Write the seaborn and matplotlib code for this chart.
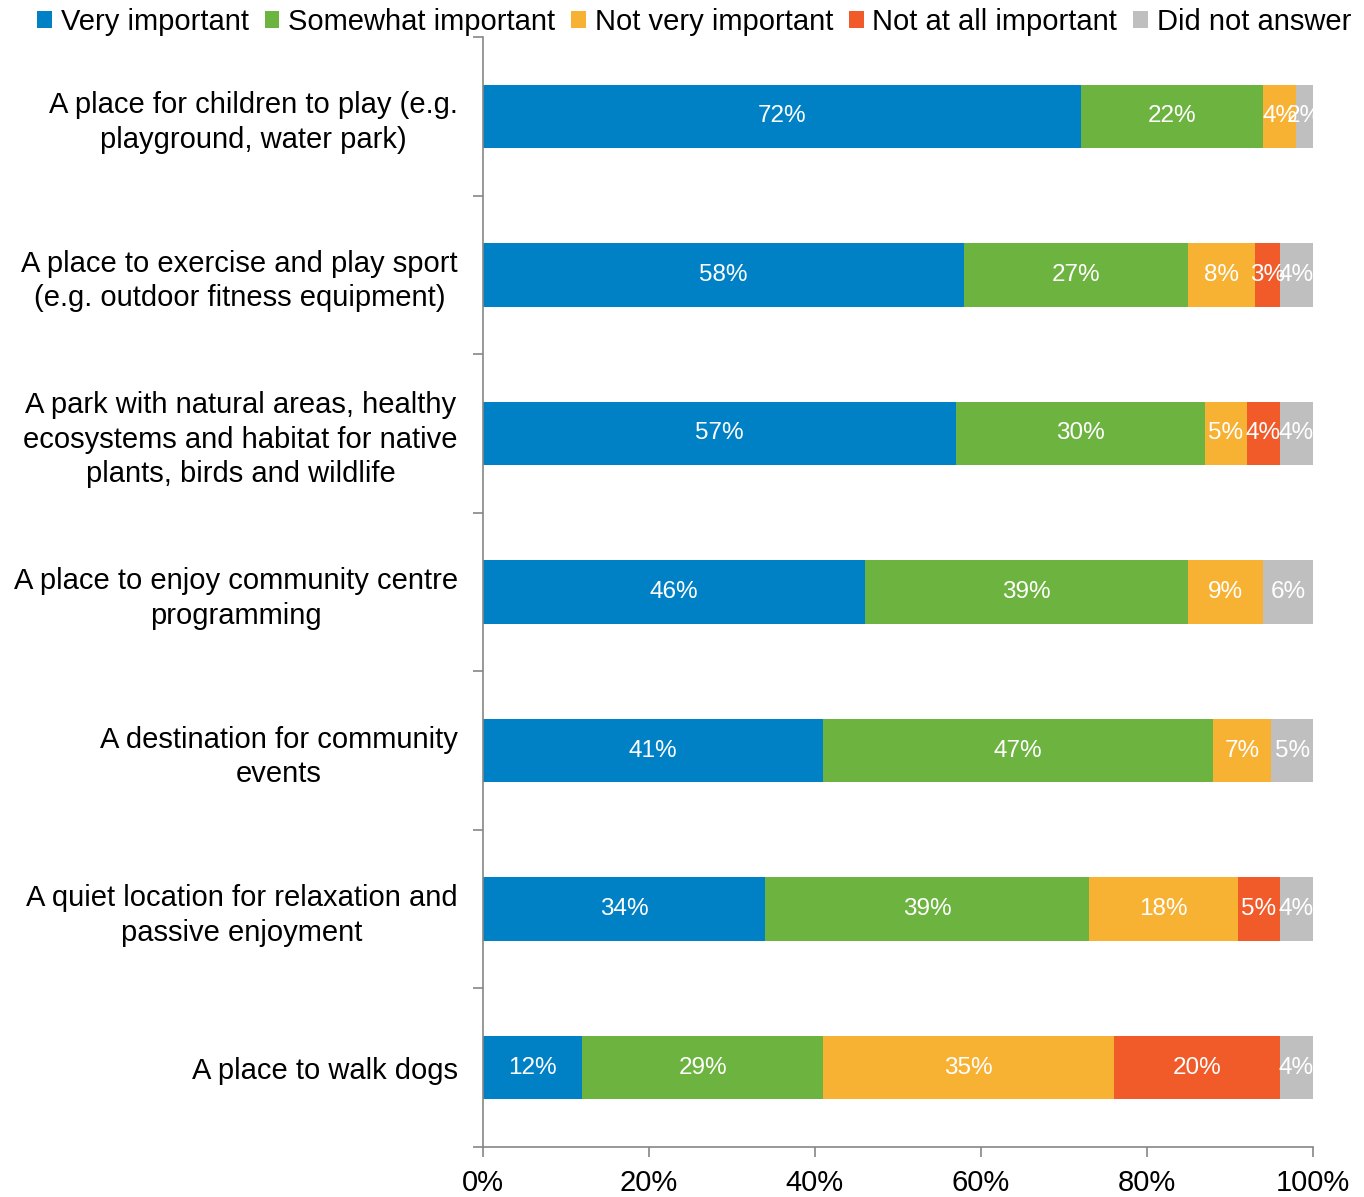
import numpy as np
import pandas as pd
import matplotlib
matplotlib.use("Agg")
import matplotlib.pyplot as plt
from matplotlib.patches import Patch
from matplotlib.ticker import FixedLocator
import seaborn as sns

categories = [
    "A place for children to play (e.g.\nplayground, water park)",
    "A place to exercise and play sport\n(e.g. outdoor fitness equipment)",
    "A park with natural areas, healthy\necosystems and habitat for native\nplants, birds and wildlife",
    "A place to enjoy community centre\nprogramming",
    "A destination for community\nevents",
    "A quiet location for relaxation and\npassive enjoyment",
    "A place to walk dogs",
]
responses = ["Very important", "Somewhat important", "Not very important",
             "Not at all important", "Did not answer"]
very_important = [72, 58, 57, 46, 41, 34, 12]
somewhat_important = [22, 27, 30, 39, 47, 39, 29]
not_very_important = [4, 8, 5, 9, 7, 18, 35]
not_at_all_important = [0, 3, 4, 0, 0, 5, 20]
did_not_answer = [2, 4, 4, 6, 5, 4, 4]
colors = ["#0081C6", "#6DB33F", "#F7B133", "#F15A29", "#BFBFBF"]

series = [very_important, somewhat_important, not_very_important,
          not_at_all_important, did_not_answer]
df = pd.DataFrame(dict(zip(responses, series)), index=categories)
cum = df.cumsum(axis=1)

sns.set_style("white")
plt.rcParams["font.family"] = ["Liberation Sans", "DejaVu Sans"]
plt.rcParams["text.color"] = "black"
plt.rcParams["xtick.color"] = "black"
plt.rcParams["ytick.color"] = "black"

fig = plt.figure(figsize=(13.64, 11.97), dpi=100)
ax = fig.add_axes([0.354, 0.0418, 0.6086, 0.9273])

# stacked bars: draw cumulative totals from the last segment back to the first
for resp, col in reversed(list(zip(responses, colors))):
    d = pd.DataFrame({"category": categories, "value": cum[resp].values})
    sns.barplot(data=d, x="value", y="category", orient="h", color=col,
                width=0.4, saturation=1, ax=ax, linewidth=0)

# value labels
starts = cum - df
for i, cat in enumerate(categories):
    for resp in responses:
        v = df.loc[cat, resp]
        if v > 0:
            ax.text(starts.loc[cat, resp] + v / 2, i, f"{v}%", ha="center",
                    va="center", color="white", fontsize=17.5)

ax.set_xlim(0, 100)
ax.set_ylim(6.5, -0.5)
ax.set_xlabel("")
ax.set_ylabel("")
ax.set_xticks(range(0, 101, 20))
ax.set_xticklabels([f"{t}%" for t in range(0, 101, 20)], fontsize=21)
ax.tick_params(axis="x", length=7, width=1.2, color="#868686", pad=9,
               direction="out", bottom=True, labelcolor="black")
ax.yaxis.set_minor_locator(FixedLocator(np.arange(-0.5, 7, 1)))
ax.tick_params(axis="y", which="minor", length=7, width=1.2, color="#868686",
               direction="out", left=True)
ax.tick_params(axis="y", which="major", length=0, pad=18, labelsize=21,
               labelcolor="black")
for lbl in ax.get_yticklabels():
    lbl.set_multialignment("center")
    lbl.set_linespacing(1.3)

for side in ["top", "right"]:
    ax.spines[side].set_visible(False)
for side in ["left", "bottom"]:
    ax.spines[side].set_color("#868686")
    ax.spines[side].set_linewidth(1.2)

handles = [Patch(facecolor=c, edgecolor="none", label=r) for r, c in zip(responses, colors)]
fig.legend(handles=handles, loc="upper center", bbox_to_anchor=(0.509, 1.003),
           ncol=5, frameon=False, fontsize=21, handlelength=0.5, handleheight=0.5,
           handletextpad=0.3, columnspacing=0.55, borderaxespad=0)

fig.savefig("out.png", dpi=100, facecolor="white")
